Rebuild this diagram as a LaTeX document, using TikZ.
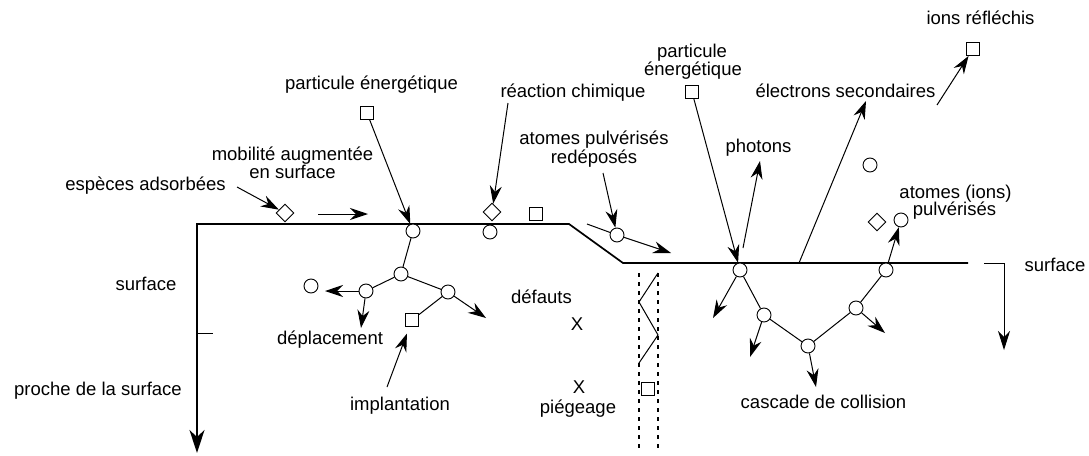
\documentclass[tikz,border=0pt]{standalone}
\usepackage{fontspec}
\setmainfont{Liberation Sans}
\usetikzlibrary{arrows.meta,shapes.geometric}
\begin{document}
\begin{tikzpicture}[x=1pt,y=-1pt,
  every node/.style={font=\fontsize{18.5}{19}\selectfont},
  lbl/.style={anchor=base,inner sep=0pt},
  atom/.style={circle,draw,fill=white,minimum size=14pt,inner sep=0pt,line width=0.9pt},
  sq/.style={rectangle,draw,fill=white,minimum size=13pt,inner sep=0pt,line width=0.9pt},
  dia/.style={diamond,draw,fill=white,minimum size=18pt,inner sep=0pt,line width=0.9pt},
  thin line/.style={line width=1pt},
  arr/.style={line width=1pt,-{Stealth[length=18pt,width=12pt,inset=6pt]}},
  surf/.style={line width=1.7pt},
  dashline/.style={line width=1.3pt,dash pattern=on 4pt off 5pt}
]
\useasboundingbox (0,0) rectangle (1089,455);

% surface and axes
\coordinate (axB) at (197,453);
\coordinate (s0) at (197,224);
\coordinate (s1) at (569,224);
\coordinate (s2) at (623,263);
\coordinate (s3) at (968,263);
\draw[surf,line join=miter,{Stealth[length=23pt,width=15pt,inset=7pt]}-] (axB) -- (s0) -- (s1) -- (s2) -- (s3);
\coordinate (tk0) at (197,333);
\coordinate (tk1) at (213,333);
\draw[thin line] (tk0) -- (tk1);
\coordinate (rb0) at (984,263);
\coordinate (rb1) at (1004,263);
\coordinate (rb2) at (1004,350);
\draw[thin line,-{Stealth[length=19pt,width=12pt,inset=6pt]}] (rb0) -- (rb1) -- (rb2);

% dashed zone
\coordinate (dl0) at (639,273); \coordinate (dl1) at (639,452);
\coordinate (dr0) at (658,273); \coordinate (dr1) at (658,452);
\draw[dashline] (dl0) -- (dl1);
\draw[dashline] (dr0) -- (dr1);
\coordinate (z0) at (658,273); \coordinate (z1) at (639,302);
\coordinate (z2) at (658,335); \coordinate (z3) at (639,363);
\draw[thin line] (z0) -- (z1) -- (z2) -- (z3);

% particles
\node[sq] (sq1) at (367,113) {};
\node[atom] (c1) at (413,231) {};
\node[atom] (c2) at (401,274) {};
\node[atom] (c3) at (366,291) {};
\node[atom] (c4) at (448,292) {};
\node[atom] (c5) at (311,286) {};
\node[sq] (sq2) at (412,320) {};
\node[atom] (cr) at (490,232) {};
\node[dia] (d2) at (492,212) {};
\node[dia] (d1) at (285,213) {};
\node[sq] (sq5) at (536,214) {};
\node[atom] (c6) at (617,235) {};
\node[sq] (sq6) at (648,389) {};
\node[sq] (sq3) at (692,92) {};
\node[atom] (c7) at (740,270) {};
\node[atom] (c8) at (764,315) {};
\node[atom] (c9) at (808,346) {};
\node[atom] (c10) at (856,308) {};
\node[atom] (c11) at (886,270) {};
\node[atom] (c12) at (901,220) {};
\node[atom] (c13) at (870,165) {};
\node[dia] (d3) at (877,222) {};
\node[sq] (sq4) at (973,49) {};

% connectors left part
\coordinate (ea) at (237,187);
\draw[arr] (ea) -- (d1);
\coordinate (mo0) at (318,214); \coordinate (mo1) at (368,214);
\draw[arr] (mo0) -- (mo1);
\draw[arr] (sq1) -- (c1);
\coordinate (rc) at (508,103);
\draw[arr] (rc) -- (d2);
\draw[thin line] (c1) -- (c2);
\draw[thin line] (c2) -- (c3);
\draw[thin line] (c2) -- (c4);
\coordinate (e3a) at (325,291);
\draw[arr] (c3) -- (e3a);
\coordinate (e3b) at (361,328);
\draw[arr] (c3) -- (e3b);
\coordinate (e4) at (486,318);
\draw[arr] (c4) -- (e4);
\draw[thin line] (c4) -- (sq2);
\coordinate (im) at (387,387);
\draw[arr,shorten >=7pt] (im) -- (sq2);

% redeposited
\coordinate (rd) at (603,173);
\draw[arr] (rd) -- (c6);
\coordinate (rd0) at (587,224);
\draw[thin line] (rd0) -- (c6);
\coordinate (rd1) at (671,253);
\draw[arr] (c6) -- (rd1);

% right part
\draw[arr] (sq3) -- (c7);
\coordinate (ph0) at (743,248); \coordinate (ph1) at (760,161);
\draw[arr] (ph0) -- (ph1);
\coordinate (el0) at (799,263); \coordinate (el1) at (866,101);
\draw[arr] (el0) -- (el1);
\coordinate (ir) at (937,105);
\draw[arr] (ir) -- (sq4);
\coordinate (e7) at (713,318);
\draw[arr] (c7) -- (e7);
\draw[thin line] (c7) -- (c8);
\coordinate (e8) at (750,357);
\draw[arr] (c8) -- (e8);
\draw[thin line] (c8) -- (c9);
\coordinate (e9) at (816,387);
\draw[arr] (c9) -- (e9);
\draw[thin line] (c9) -- (c10);
\coordinate (e10) at (885,333);
\draw[arr] (c10) -- (e10);
\draw[thin line] (c10) -- (c11);
\draw[arr] (c11) -- (c12);

% labels
\node[lbl] (t1) at (371.5,89) {particule énergétique};
\node[lbl] (t2) at (573,97) {réaction chimique};
\node[lbl] (t3) at (292.5,160) {mobilité augmentée};
\node[lbl] (t4) at (292.5,178) {en surface};
\node[lbl] (t5) at (145.5,190) {espèces adsorbées};
\node[lbl] (t6) at (146,290) {surface};
\node[lbl] (t7) at (98,395) {proche de la surface};
\node[lbl] (t8) at (330,344) {déplacement};
\node[lbl] (t9) at (400,410) {implantation};
\node[lbl] (t10) at (541.5,303) {défauts};
\node[lbl] (x1) at (577,330) {X};
\node[lbl] (x2) at (579,393) {X};
\node[lbl] (t11) at (578,413) {piégeage};
\node[lbl] (t12) at (594,144) {atomes pulvérisés};
\node[lbl] (t13) at (594,163) {redéposés};
\node[lbl] (t14) at (692,57) {particule};
\node[lbl] (t15) at (693,75) {énergétique};
\node[lbl] (t16) at (758.5,152) {photons};
\node[lbl] (t17) at (845.5,97) {électrons secondaires};
\node[lbl] (t18) at (980.5,24) {ions réfléchis};
\node[lbl] (t19) at (955.5,198) {atomes (ions)};
\node[lbl] (t20) at (954.5,215) {pulvérisés};
\node[lbl] (t21) at (1055,271) {surface};
\node[lbl] (t22) at (823.5,408) {cascade de collision};
\end{tikzpicture}
\end{document}
